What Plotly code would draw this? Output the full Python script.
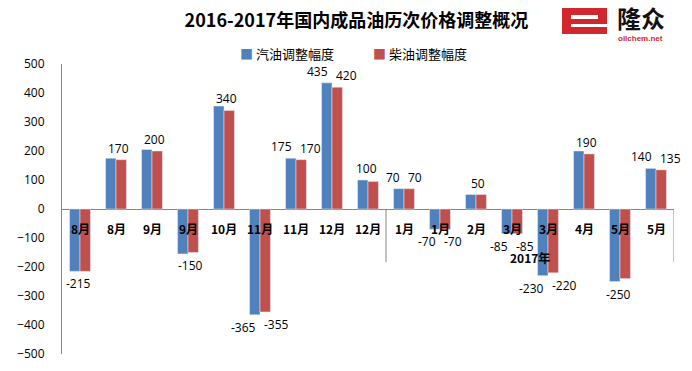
import plotly.graph_objects as go

categories = ["8月", "8月", "9月", "9月", "10月", "11月", "11月", "12月", "12月",
              "1月", "1月", "2月", "3月", "3月", "4月", "5月", "5月"]
gasoline = [-215, 175, 205, -155, 355, -365, 175, 435, 100,
            70, -70, 50, -85, -230, 200, -250, 140]
diesel = [-215, 170, 200, -150, 340, -355, 170, 420, 95,
          70, -70, 50, -85, -220, 190, -240, 135]
gasoline_labels = ["-215", "", "", "", "", "-365", "175", "435", "100",
                   "70", "-70", "", "-85", "-230", "", "-250", "140"]
diesel_labels = ["", "170", "200", "-150", "340", "-355", "170", "420", "",
                 "70", "-70", "50", "-85", "-220", "190", "", "135"]
y_ticks = [500, 400, 300, 200, 100, 0, -100, -200, -300, -400, -500]
series_names = ["汽油调整幅度", "柴油调整幅度"]
year_label = "2017年"
title_text = "2016-2017年国内成品油历次价格调整概况"

FONT = "Open Sans, Noto Sans CJK SC, sans-serif"
CJK = "Noto Sans CJK SC, sans-serif"
BLUE = "#4F81BD"
RED = "#C0504D"

x_idx = list(range(len(categories)))

fig = go.Figure()
fig.add_trace(go.Bar(x=x_idx, y=gasoline, name=series_names[0], marker_color=BLUE,
                     showlegend=False))
fig.add_trace(go.Bar(x=x_idx, y=diesel, name=series_names[1], marker_color=RED,
                     showlegend=False))

annotations = []
# value labels (placed at each bar's end)
for i in x_idx:
    gl, dl = gasoline_labels[i], diesel_labels[i]
    both = bool(gl) and bool(dl)
    for lab, val, side in [(gl, gasoline[i], -1), (dl, diesel[i], 1)]:
        if not lab:
            continue
        if both:
            xanchor = "right" if side < 0 else "left"
            xshift = 2 * side
        else:
            xanchor = "center"
            xshift = 2 * side
        pos = val >= 0
        annotations.append(dict(
            x=i, y=val, xref="x", yref="y", text=lab, showarrow=False,
            xanchor=xanchor, xshift=xshift,
            yanchor="bottom" if pos else "top", yshift=1 if pos else -2,
            font=dict(size=12, color="#000000", family=FONT),
        ))

for i, c in enumerate(categories):
    annotations.append(dict(
        x=i, y=0, xref="x", yref="y", text="<b>" + c + "</b>", showarrow=False,
        yanchor="top", yshift=-9, font=dict(size=12, color="#000000", family=CJK),
    ))
annotations.append(dict(
    x=12.5, y=0, xref="x", yref="y", text="<b>" + year_label + "</b>", showarrow=False,
    yanchor="middle", yshift=-48, font=dict(size=12, color="#000000", family=CJK),
))


def px(xp):
    return (xp - 62) / 612


def py(yp):
    return (354 - yp) / 290


# legend (drawn as text)
for name, color, x0 in [(series_names[0], BLUE, 238), (series_names[1], RED, 371)]:
    annotations.append(dict(
        x=px(x0), y=py(53), xref="paper", yref="paper",
        text="<span style='color:%s'>■</span> %s" % (color, name),
        showarrow=False, xanchor="left", yanchor="middle",
        font=dict(size=13, color="#000000", family=CJK),
    ))

annotations.append(dict(
    x=px(641), y=py(17), xref="paper", yref="paper",
    text="<b>隆众</b>", showarrow=False, xanchor="center", yanchor="middle",
    font=dict(size=24, color="#111111", family=CJK),
))
annotations.append(dict(
    x=px(640), y=py(38), xref="paper", yref="paper",
    text="<b>oilchem.net</b>", showarrow=False, xanchor="center", yanchor="middle",
    font=dict(size=8, color="#D0282E", family="Liberation Sans, sans-serif"),
))

shapes = []
for xb in [8.5, 16.5]:
    shapes.append(dict(type="line", xref="x", yref="y", x0=xb, x1=xb, y0=0, y1=-183,
                       line=dict(color="#868686", width=1)))
# logo graphic
shapes.append(dict(type="rect", xref="paper", yref="paper",
                   x0=px(562), x1=px(607), y0=py(34), y1=py(8),
                   fillcolor="#D0282E", line=dict(width=0)))
shapes.append(dict(type="rect", xref="paper", yref="paper",
                   x0=px(571), x1=px(598), y0=py(19), y1=py(15),
                   fillcolor="white", line=dict(width=0)))
shapes.append(dict(type="rect", xref="paper", yref="paper",
                   x0=px(571), x1=px(607), y0=py(27), y1=py(24),
                   fillcolor="white", line=dict(width=0)))

fig.update_layout(
    width=692, height=371,
    margin=dict(l=62, r=18, t=64, b=17, autoexpand=False),
    paper_bgcolor="white", plot_bgcolor="white",
    barmode="group", bargap=0.42, bargroupgap=0,
    title=dict(text="<b>" + title_text + "</b>", x=0.515, xanchor="center",
               yref="container", y=1 - 21 / 371, yanchor="middle",
               font=dict(size=18, color="#000000", family=CJK)),
    showlegend=False,
    font=dict(family=FONT),
    shapes=shapes,
    annotations=annotations,
)

fig.update_xaxes(
    range=[-0.5, len(categories) - 0.5], showticklabels=False, showgrid=False,
    zeroline=False, showline=False, ticks="",
)
fig.update_yaxes(
    range=[-500, 500], tickvals=y_ticks, showgrid=False,
    zeroline=True, zerolinecolor="#868686", zerolinewidth=1,
    showline=True, linecolor="#868686", linewidth=1, ticks="",
    ticklabelstandoff=14,
    tickfont=dict(size=12, color="#000000", family=FONT),
)

fig.write_html(
    "out.html",
    config={"displayModeBar": False},
    post_script="document.body.style.margin='0';document.body.style.overflow='hidden';",
)
